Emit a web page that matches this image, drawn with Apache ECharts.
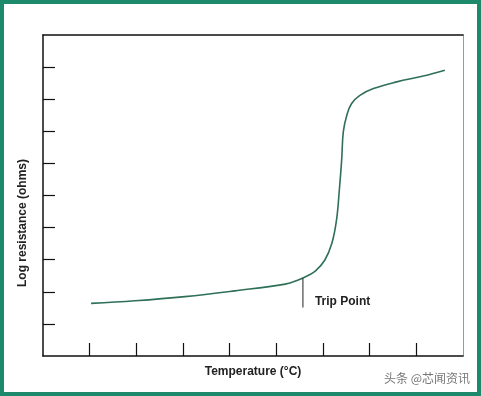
<!DOCTYPE html>
<html><head><meta charset="utf-8">
<script src="https://cdn.jsdelivr.net/npm/echarts@6/dist/echarts.min.js"></script>
<style>html,body{margin:0;padding:0;background:#fff}#c{width:481px;height:396px}</style>
</head><body><div id="c"></div>
<script>
// Temperature (arbitrary units, 0..9) vs log resistance (arbitrary units, 0..10)
const temperature = [1.03,1.97,3.04,4.11,5.19,5.47,5.68,5.84,6.04,6.19,6.29,6.35,6.40,6.435,6.51,6.61,6.79,7.08,7.58,8.15,8.61];
const logResistance = [1.64,1.72,1.85,2.03,2.24,2.37,2.51,2.65,2.99,3.51,4.24,5.17,6.11,6.98,7.50,7.86,8.12,8.33,8.54,8.72,8.90];
const tripX = [5.57,5.57];
const tripY = [2.42,1.51];
const tripLabel = 'Trip Point';
const xName = 'Temperature (°C)';
const yName = 'Log resistance (ohms)';
const watermark = '头条 @芯闻资讯';
const xTicks = [1,2,3,4,5,6,7,8];
const yTicks = [1,2,3,4,5,6,7,8,9];

const chart = echarts.init(document.getElementById('c'), null, {renderer:'canvas'});
const font = 'Liberation Sans, Arial, sans-serif';
chart.setOption({
  animation:false,
  grid:{left:43, top:35, right:18, bottom:40},
  xAxis:[{
    type:'value', min:0, max:9, interval:1,
    axisLine:{onZero:false, lineStyle:{color:'#111', width:1.5}},
    axisTick:{inside:true, length:13, customValues:xTicks, lineStyle:{color:'#111', width:1.2}},
    axisLabel:{show:false}, splitLine:{show:false},
    name:xName, nameLocation:'middle', nameGap:10,
    nameTextStyle:{fontFamily:font, fontWeight:'bold', fontSize:12, color:'#222', verticalAlign:'top'}
  },{
    type:'value', position:'top', min:0, max:9,
    axisLine:{show:true, onZero:false, lineStyle:{color:'#111', width:1.5}},
    axisTick:{show:false}, axisLabel:{show:false}, splitLine:{show:false}
  }],
  yAxis:[{
    type:'value', min:0, max:10, interval:1,
    axisLine:{show:true, onZero:false, lineStyle:{color:'#111', width:1.5}},
    axisTick:{show:true, inside:true, length:12, customValues:yTicks, lineStyle:{color:'#111', width:1.2}},
    axisLabel:{show:false}, splitLine:{show:false}
  },{
    type:'value', position:'right', min:0, max:10,
    axisLine:{show:true, onZero:false, lineStyle:{color:'#999', width:1}},
    axisTick:{show:false}, axisLabel:{show:false}, splitLine:{show:false}
  }],
  graphic:[
    {type:'rect', shape:{x:2, y:2, width:477, height:392}, style:{fill:'none', stroke:'#1d8b6b', lineWidth:4}, silent:true},
    {type:'text', x:23, y:223, rotation:Math.PI/2,
     style:{text:yName, font:'bold 12px ' + font, fill:'#222', align:'center', verticalAlign:'middle'}},
    {type:'text', right:11, top:372,
     style:{text:watermark, font:'12px "Noto Sans CJK SC", sans-serif', fill:'#777'}}
  ],
  series:[{
    type:'line', data:temperature.map((x,i)=>[x, logResistance[i]]),
    smooth:0.4, showSymbol:false,
    lineStyle:{color:'#2f7057', width:1.6}
  },{
    type:'line', data:tripX.map((x,i)=>[x, tripY[i]]),
    showSymbol:false, symbol:'none',
    lineStyle:{color:'#222', width:1},
    label:{show:false},
    endLabel:{show:true, formatter:tripLabel, offset:[4,-6], fontFamily:font, fontWeight:'bold', fontSize:12, color:'#222'}
  }]
});
</script></body></html>
